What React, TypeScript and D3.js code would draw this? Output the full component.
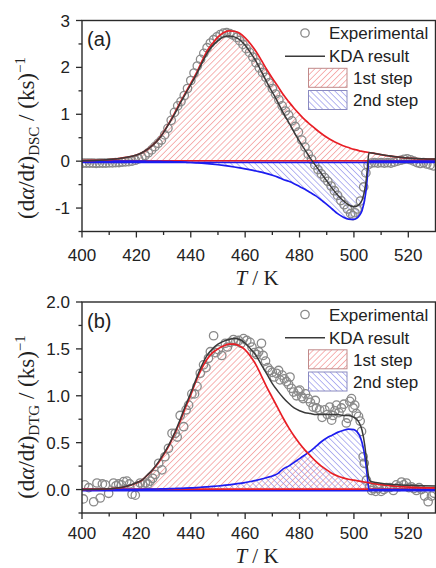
import React from "react";
import * as d3 from "d3";

const W = 436;
const H = 568;

const xMajor = [400, 420, 440, 460, 480, 500, 520];
const xMinor = [410, 430, 450, 470, 490, 510];

const gridT = [400, 404, 408, 412, 416, 420, 422, 424, 426, 428, 430, 432, 434, 436, 438, 440, 442, 444, 446, 448, 450, 452, 454, 456, 458, 460, 462, 464, 466, 468, 470, 472, 474, 476, 478, 480, 482, 484, 486, 488, 490, 492, 494, 496, 498, 500, 501, 502, 503, 504, 504.5, 505, 505.5, 506, 508, 512, 516, 520, 525, 530];

// Panel (a) DSC
const redA = [0.01, 0.015, 0.025, 0.045, 0.08, 0.13, 0.18, 0.25, 0.34, 0.46, 0.62, 0.81, 1.02, 1.24, 1.45, 1.66, 1.87, 2.12, 2.35, 2.51, 2.65, 2.74, 2.78, 2.77, 2.73, 2.63, 2.5, 2.34, 2.15, 1.95, 1.77, 1.6, 1.42, 1.27, 1.13, 1.0, 0.88, 0.78, 0.68, 0.59, 0.51, 0.44, 0.38, 0.33, 0.29, 0.25, 0.24, 0.22, 0.21, 0.2, 0.195, 0.19, 0.185, 0.18, 0.16, 0.12, 0.09, 0.065, 0.05, 0.045];
const blueA = [0, 0, 0, 0, 0, 0, 0, -0.002, -0.003, -0.005, -0.007, -0.01, -0.013, -0.017, -0.022, -0.028, -0.035, -0.043, -0.052, -0.063, -0.076, -0.09, -0.106, -0.124, -0.143, -0.163, -0.185, -0.21, -0.235, -0.265, -0.3, -0.34, -0.39, -0.43, -0.48, -0.54, -0.6, -0.67, -0.74, -0.83, -0.92, -1.02, -1.12, -1.19, -1.235, -1.24, -1.22, -1.16, -1.05, -0.8, -0.6, -0.3, 0, 0, 0, 0, 0, 0, 0, 0];
const kdaA = [0.01, 0.015, 0.025, 0.045, 0.08, 0.13, 0.18, 0.25, 0.34, 0.455, 0.61, 0.8, 1.0, 1.22, 1.43, 1.63, 1.84, 2.08, 2.3, 2.46, 2.57, 2.65, 2.67, 2.65, 2.59, 2.47, 2.31, 2.13, 1.91, 1.68, 1.47, 1.26, 1.03, 0.83, 0.62, 0.42, 0.24, 0.06, -0.1, -0.26, -0.42, -0.58, -0.72, -0.84, -0.93, -0.97, -0.96, -0.92, -0.83, -0.6, -0.41, -0.12, 0.18, 0.18, 0.16, 0.12, 0.09, 0.065, 0.05, 0.045];

const expA: [number, number][] = [
  [400.4, -0.04], [401.6, -0.04], [402.8, -0.04], [404, -0.04], [405.2, -0.045], [406.4, -0.04], [407.6, -0.04], [408.8, -0.04], [410, -0.035], [411.2, -0.035], [412.4, -0.03], [413.6, -0.03], [414.8, -0.02], [416, -0.015], [417.2, -0.01], [418.4, 0.0], [419.6, 0.02], [420.8, 0.05], [422, 0.08], [423.2, 0.12], [424.4, 0.18], [425.6, 0.24], [426.8, 0.31], [428, 0.38], [429.2, 0.45], [430.4, 0.56], [431.6, 0.7], [432.8, 0.87], [434, 1.04], [435.2, 1.18], [436.4, 1.27], [437.6, 1.4], [438.8, 1.55], [440, 1.72], [441.2, 1.88], [442.4, 2.03], [443.6, 2.17], [444.8, 2.3], [446, 2.42], [447.2, 2.52], [448.4, 2.59], [449.6, 2.65], [450.8, 2.7], [452, 2.73], [453.2, 2.74], [454.4, 2.72], [455.6, 2.69], [456.8, 2.64], [458, 2.57], [459.2, 2.49], [460.4, 2.4], [461.6, 2.32], [462.8, 2.22], [464, 2.1], [465.2, 1.99], [466.4, 1.89], [467.6, 1.79], [468.8, 1.67], [470, 1.55], [471.2, 1.43], [472.4, 1.31], [473.6, 1.18], [474.8, 1.07], [476, 0.98], [477.2, 0.86], [478.4, 0.74], [479.6, 0.62], [480.8, 0.45], [482, 0.3], [483.2, 0.15], [484.4, 0.04], [485.6, -0.08], [486.8, -0.18], [488, -0.27], [489.2, -0.35], [490.4, -0.43], [491.6, -0.53], [492.8, -0.63], [494, -0.73], [495.2, -0.84], [496.4, -0.93], [497.6, -1.02], [498.8, -1.12], [499.6, -1.16], [500.4, -1.1], [501.2, -1.02], [502.4, -0.85], [503.6, -0.55], [504.4, -0.25], [505.2, -0.08], [506.4, -0.04], [507.6, -0.03], [508.8, -0.04], [510, -0.03], [511.2, -0.04], [512.4, -0.03], [513.6, -0.04], [514.8, -0.02], [516, 0.0], [517.2, 0.02], [518.4, 0.04], [519.6, 0.05], [520.8, 0.03], [522, 0.0], [523.2, -0.03], [524.4, -0.05], [525.6, -0.03], [526.8, -0.06], [528, -0.08], [529.2, -0.1]
];

// Panel (b) DTG
const redB = [0.0, 0.002, 0.005, 0.012, 0.03, 0.07, 0.1, 0.15, 0.21, 0.28, 0.37, 0.47, 0.59, 0.72, 0.87, 1.01, 1.16, 1.29, 1.39, 1.46, 1.5, 1.53, 1.55, 1.55, 1.53, 1.49, 1.42, 1.33, 1.21, 1.09, 0.98, 0.87, 0.76, 0.66, 0.57, 0.49, 0.42, 0.36, 0.3, 0.25, 0.21, 0.17, 0.145, 0.125, 0.11, 0.1, 0.095, 0.09, 0.085, 0.08, 0.078, 0.075, 0.073, 0.07, 0.06, 0.046, 0.033, 0.026, 0.02, 0.018];
const blueB = [0, 0, 0, 0.001, 0.001, 0.002, 0.003, 0.004, 0.005, 0.006, 0.007, 0.009, 0.011, 0.013, 0.015, 0.018, 0.021, 0.025, 0.029, 0.033, 0.038, 0.044, 0.05, 0.057, 0.065, 0.075, 0.086, 0.098, 0.112, 0.128, 0.145, 0.17, 0.22, 0.25, 0.29, 0.33, 0.37, 0.41, 0.46, 0.51, 0.55, 0.58, 0.61, 0.63, 0.645, 0.64, 0.62, 0.58, 0.5, 0.36, 0.25, 0.12, 0, 0, 0, 0, 0, 0, 0, 0];
const kdaB = [0.0, 0.002, 0.005, 0.013, 0.032, 0.072, 0.1, 0.155, 0.215, 0.29, 0.38, 0.48, 0.6, 0.74, 0.89, 1.03, 1.18, 1.32, 1.43, 1.5, 1.55, 1.58, 1.6, 1.61, 1.6, 1.56, 1.5, 1.43, 1.33, 1.23, 1.13, 1.05, 0.98, 0.92, 0.87, 0.84, 0.82, 0.81, 0.8, 0.8, 0.8, 0.8, 0.8, 0.79, 0.79, 0.77, 0.75, 0.71, 0.63, 0.47, 0.35, 0.22, 0.12, 0.09, 0.075, 0.06, 0.05, 0.045, 0.04, 0.037];

const expB: [number, number][] = [
  [400.5, -0.1], [401, 0.05], [402.5, 0.02], [404.3, -0.13], [405.5, 0.07], [406.7, -0.09], [407.5, 0.06], [408.6, 0.05], [409.8, -0.04], [411.6, 0.07], [412.5, 0.04], [413.5, 0.06], [414.5, 0.05], [415.3, 0.085], [416.5, 0.09], [417.5, 0.06], [418.4, -0.05], [419.6, -0.06], [420.5, 0.04], [421.4, 0.07], [422.3, 0.05], [423.3, 0.07], [424.2, 0.06], [425.1, 0.09], [426, 0.12], [426.9, 0.16], [428.2, 0.28], [429.4, 0.21], [430.5, 0.35], [431.8, 0.44], [433.1, 0.6], [434.3, 0.6], [435, 0.56], [436.1, 0.79], [437.4, 0.67], [438.3, 0.85], [439.2, 0.9], [440.4, 1.02], [441.4, 1.02], [442.3, 1.1], [443.5, 1.24], [444.7, 1.33], [445.6, 1.3], [446.5, 1.4], [447.2, 1.47], [448.4, 1.64], [449.2, 1.46], [450.2, 1.49], [451.4, 1.43], [452.7, 1.56], [453.5, 1.52], [454.5, 1.57], [455.7, 1.6], [456.6, 1.58], [457.6, 1.59], [458.5, 1.56], [459.4, 1.61], [460.6, 1.59], [461.8, 1.57], [462.5, 1.52], [463.4, 1.46], [464.3, 1.44], [465, 1.47], [466, 1.56], [466.6, 1.43], [467.5, 1.37], [468.3, 1.3], [469.1, 1.27], [470, 1.25], [470.7, 1.2], [471.5, 1.24], [472.3, 1.27], [472.8, 1.17], [473.6, 1.22], [474.4, 1.18], [475.2, 1.15], [476, 1.12], [476.5, 1.2], [477, 1.08], [477.8, 1.04], [478.9, 1.0], [479.5, 1.05], [480.1, 1.06], [480.8, 0.99], [481.3, 0.97], [482.2, 1.02], [483.2, 0.97], [484, 0.93], [485, 0.88], [485.8, 0.95], [486.2, 0.87], [487.4, 0.85], [488.3, 0.77], [489.3, 0.85], [490.2, 0.8], [491.1, 0.88], [491.8, 0.74], [492.3, 0.79], [493, 0.84], [493.6, 0.9], [494.5, 0.82], [495.4, 0.87], [496.3, 0.91], [497.2, 0.71], [497.8, 0.76], [498.5, 0.94], [499.1, 0.97], [499.7, 0.87], [500.3, 0.9], [500.9, 0.81], [501.7, 0.78], [502.3, 0.73], [502.8, 0.62], [503.4, 0.35], [503.8, 0.28], [504.6, 0.1], [505.8, 0.03], [506.5, -0.01], [507, 0.01], [508, -0.02], [508.9, 0.01], [510, -0.02], [511, 0.0], [512, 0.02], [513.2, 0.02], [514.5, -0.01], [515.6, 0.05], [516.5, 0.03], [517.5, 0.08], [518.3, 0.05], [519.3, 0.07], [520.2, 0.02], [521.1, 0.03], [522, 0.01], [523, -0.01], [524, 0.02], [524.8, 0.0], [526, -0.07], [527.3, -0.13], [528.5, -0.07], [529.5, -0.04]
];

const yMajorA = [3, 2, 1, 0, -1];
const yLabelsA = ["3", "2", "1", "0", "-1"];
const yMinorA = [2.5, 1.5, 0.5, -0.5, -1.5];
const yMajorB = [2.0, 1.5, 1.0, 0.5, 0.0];
const yLabelsB = ["2.0", "1.5", "1.0", "0.5", "0.0"];
const yMinorB = [1.75, 1.25, 0.75, 0.25, -0.25];

const legendLabels = ["Experimental", "KDA result", "1st step", "2nd step"];

const SANS = "'Liberation Sans', Arial, Helvetica, sans-serif";
const SERIF = "'Liberation Serif', 'Times New Roman', serif";
const RED = "#e81e25";
const BLUE = "#1c1cf0";
const KDA = "#3a3a3a";
const EXP = "#8a8a8a";
const AXIS = "#2a2a2a";

const LEFT = 82;
const RIGHT = 435.5;

type PanelProps = {
  id: string;
  top: number;
  bottom: number;
  yDomain: [number, number];
  yMajor: number[];
  yLabels: string[];
  yMinor: number[];
  red: number[];
  blue: number[];
  kda: number[];
  exp: [number, number][];
  tag: string;
  sub: string;
  tickBase: number;
  titleBase: number;
  yTitleCenter: number;
};

function Panel(p: PanelProps) {
  const x = d3.scaleLinear().domain([400, 530]).range([LEFT, RIGHT]);
  const y = d3.scaleLinear().domain(p.yDomain).range([p.bottom, p.top]);
  const y0 = y(0);
  const idx = gridT.map((_, i) => i);
  const areaRed = d3.area<number>().x(i => x(gridT[i])).y0(y0).y1(i => y(p.red[i])).curve(d3.curveMonotoneX);
  const areaBlue = d3.area<number>().x(i => x(gridT[i])).y0(y0).y1(i => y(p.blue[i])).curve(d3.curveMonotoneX);
  const lineRed = d3.line<number>().x(i => x(gridT[i])).y(i => y(p.red[i])).curve(d3.curveMonotoneX);
  const lineBlue = d3.line<number>().x(i => x(gridT[i])).y(i => y(p.blue[i])).curve(d3.curveMonotoneX);
  const lineKda = d3.line<number>().x(i => x(gridT[i])).y(i => y(p.kda[i])).curve(d3.curveMonotoneX);
  const clip = `clip-${p.id}`;
  const lt = p.top;
  return (
    <g>
      <defs>
        <clipPath id={clip}>
          <rect x={LEFT} y={p.top} width={RIGHT - LEFT} height={p.bottom - p.top} />
        </clipPath>
      </defs>
      <g clipPath={`url(#${clip})`}>
        <path d={areaRed(idx) || ""} fill="url(#hatchRed)" />
        <path d={areaBlue(idx) || ""} fill="url(#hatchBlue)" />
        {p.exp.map((d, i) => (
          <circle key={i} cx={x(d[0])} cy={y(d[1])} r={4.2} fill="none" stroke={EXP} strokeWidth={1.3} />
        ))}
        <line x1={LEFT} x2={RIGHT} y1={y0 + 1.2} y2={y0 + 1.2} stroke={BLUE} strokeWidth={1.6} />
        <line x1={LEFT} x2={RIGHT} y1={y0 - 0.4} y2={y0 - 0.4} stroke={RED} strokeWidth={1.6} />
        <path d={lineBlue(idx) || ""} fill="none" stroke={BLUE} strokeWidth={1.7} />
        <path d={lineRed(idx) || ""} fill="none" stroke={RED} strokeWidth={1.7} />
        <path d={lineKda(idx) || ""} fill="none" stroke={KDA} strokeWidth={1.5} />
      </g>
      <rect x={LEFT} y={p.top} width={RIGHT - LEFT} height={p.bottom - p.top} fill="none" stroke={AXIS} strokeWidth={1.4} />
      {xMajor.map(t => (
        <g key={`xm${t}`}>
          <line x1={x(t)} x2={x(t)} y1={p.bottom} y2={p.bottom + 6} stroke={AXIS} strokeWidth={1.3} />
          <text x={x(t)} y={p.tickBase} textAnchor="middle" fontFamily={SANS} fontSize={17} fill="#222">{t}</text>
        </g>
      ))}
      {xMinor.map(t => (
        <line key={`xn${t}`} x1={x(t)} x2={x(t)} y1={p.bottom} y2={p.bottom + 3.5} stroke={AXIS} strokeWidth={1.3} />
      ))}
      {p.yMajor.map((t, i) => (
        <g key={`ym${t}`}>
          <line x1={LEFT - 6} x2={LEFT} y1={y(t)} y2={y(t)} stroke={AXIS} strokeWidth={1.3} />
          <text x={70} y={y(t) + 6} textAnchor="end" fontFamily={SANS} fontSize={17} fill="#222">{p.yLabels[i]}</text>
        </g>
      ))}
      {p.yMinor.map(t => (
        <line key={`yn${t}`} x1={LEFT - 3.5} x2={LEFT} y1={y(t)} y2={y(t)} stroke={AXIS} strokeWidth={1.3} />
      ))}
      <text x={87} y={p.top + 25.5} fontFamily={SANS} fontSize={20} fill="#222">{p.tag}</text>
      <text x={257} y={p.titleBase} textAnchor="middle" fontFamily={SERIF} fontSize={21} fill="#222">
        <tspan fontStyle="italic">T</tspan> / K
      </text>
      <text transform={`translate(34,${p.yTitleCenter}) rotate(-90)`} textAnchor="middle" fontFamily={SERIF} fontSize={23} fill="#222">
        (d<tspan fontStyle="italic">α</tspan>/d<tspan fontStyle="italic">t</tspan>)<tspan fontSize={15} dy={5}>{p.sub}</tspan><tspan dy={-5}> / (ks)</tspan><tspan fontSize={15} dy={-9}>−1</tspan>
      </text>
      <circle cx={305} cy={lt + 12.5} r={4.2} fill="none" stroke={EXP} strokeWidth={1.3} />
      <text x={329} y={lt + 18.5} fontFamily={SANS} fontSize={17} fill="#222">{legendLabels[0]}</text>
      <line x1={285} x2={325} y1={lt + 35.8} y2={lt + 35.8} stroke={KDA} strokeWidth={1.5} />
      <text x={329} y={lt + 41.8} fontFamily={SANS} fontSize={17} fill="#222">{legendLabels[1]}</text>
      <rect x={308.5} y={lt + 47.8} width={38.5} height={19} fill="url(#hatchRed)" stroke="#c08a8a" strokeWidth={1} />
      <text x={353} y={lt + 63.5} fontFamily={SANS} fontSize={17} fill="#222">{legendLabels[2]}</text>
      <rect x={308.5} y={lt + 70} width={38.5} height={19} fill="url(#hatchBlue)" stroke="#8a8ac0" strokeWidth={1} />
      <text x={353} y={lt + 85.5} fontFamily={SANS} fontSize={17} fill="#222">{legendLabels[3]}</text>
    </g>
  );
}

export default function App() {
  return (
    <svg width={W} height={H} viewBox={`0 0 ${W} ${H}`} style={{ position: "absolute", left: 0, top: 0, background: "#fff" }}>
      <defs>
        <pattern id="hatchRed" width={4.3} height={4.3} patternUnits="userSpaceOnUse" patternTransform="rotate(45)">
          <line x1={0} y1={0} x2={0} y2={4.3} stroke="#f07878" strokeWidth={1.1} />
        </pattern>
        <pattern id="hatchBlue" width={4.3} height={4.3} patternUnits="userSpaceOnUse" patternTransform="rotate(-45)">
          <line x1={0} y1={0} x2={0} y2={4.3} stroke="#7a7ae6" strokeWidth={1.1} />
        </pattern>
      </defs>
      <rect x={0} y={0} width={W} height={H} fill="#fff" />
      <Panel id="a" top={20.5} bottom={231.5} yDomain={[-1.5, 3]} yMajor={yMajorA} yLabels={yLabelsA} yMinor={yMinorA}
        red={redA} blue={blueA} kda={kdaA} exp={expA} tag="(a)" sub="DSC" tickBase={261} titleBase={285} yTitleCenter={138} />
      <Panel id="b" top={302} bottom={513} yDomain={[-0.25, 2]} yMajor={yMajorB} yLabels={yLabelsB} yMinor={yMinorB}
        red={redB} blue={blueB} kda={kdaB} exp={expB} tag="(b)" sub="DTG" tickBase={539} titleBase={563} yTitleCenter={417} />
    </svg>
  );
}
